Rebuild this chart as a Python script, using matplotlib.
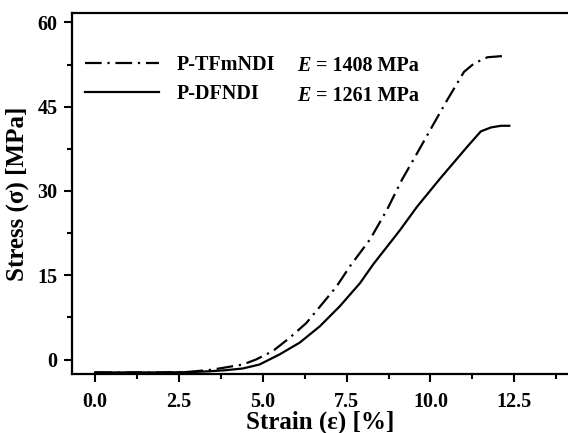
import matplotlib
matplotlib.use("Agg")
import matplotlib.pyplot as plt
from matplotlib.ticker import MultipleLocator, FormatStrFormatter

plt.rcParams['font.family'] = ['Liberation Serif', 'DejaVu Serif']
plt.rcParams['font.weight'] = 'bold'
plt.rcParams['axes.labelweight'] = 'bold'

# P-TFmNDI (dash-dot)
strain_tf = [0, 1.0, 2.0, 2.8, 3.5, 4.0, 4.4, 4.8, 5.3, 5.8, 6.3, 6.8, 7.2, 7.6,
             8.2, 8.7, 9.15, 9.6, 10.1, 10.5, 11.0, 11.3, 11.7, 12.13]
stress_tf = [-2.3, -2.3, -2.3, -2.2, -1.8, -1.3, -0.9, 0.0, 1.5, 3.85, 6.5, 10.1, 13.0, 16.6,
             21.4, 26.6, 32.0, 36.7, 42.0, 46.2, 51.2, 52.7, 53.8, 54.0]

# P-DFNDI (solid)
strain_df = [0, 1.0, 2.0, 2.8, 3.4, 3.9, 4.4, 4.9, 5.5, 6.1, 6.7, 7.3, 7.9, 8.3,
             8.8, 9.1, 9.6, 10.3, 11.1, 11.5, 11.8, 12.1, 12.35]
stress_df = [-2.3, -2.3, -2.3, -2.25, -2.1, -1.9, -1.6, -0.9, 0.9, 3.0, 5.9, 9.5, 13.6, 17.0,
             20.8, 23.1, 27.2, 32.3, 37.9, 40.6, 41.3, 41.6, 41.6]

names = ['P-TFmNDI', 'P-DFNDI']
moduli = ['1408', '1261']

fig = plt.figure(figsize=(5.68, 4.33), dpi=100)
ax = fig.add_axes([0.126, 0.136, 0.874, 0.833])

l1, = ax.plot(strain_tf, stress_tf, color='black', lw=1.6, dashes=(7.5, 2.6, 1, 2.6))
l2, = ax.plot(strain_df, stress_df, color='black', lw=1.6)

ax.set_xlim(-0.7, 14.1)
ax.set_ylim(-2.6, 61.6)
ax.xaxis.set_major_locator(MultipleLocator(2.5))
ax.xaxis.set_minor_locator(MultipleLocator(1.25))
ax.yaxis.set_major_locator(MultipleLocator(15))
ax.yaxis.set_minor_locator(MultipleLocator(7.5))
ax.xaxis.set_major_formatter(FormatStrFormatter('%.1f'))
ax.tick_params(which='major', direction='out', length=6, width=1.5, labelsize=14.5, pad=4)
ax.tick_params(which='minor', direction='out', length=3.5, width=1.5)
ax.tick_params(axis='x', pad=7)

for side in ['left', 'bottom', 'top']:
    ax.spines[side].set_linewidth(1.6)
ax.spines['right'].set_visible(False)

ax.set_xlabel('Strain (ε) [%]', fontsize=18, labelpad=-1)
ax.set_ylabel('Stress (σ) [MPa]', fontsize=18, labelpad=6)

leg = ax.legend([l1, l2], names, loc='upper left', bbox_to_anchor=(0.027, 0.884),
                frameon=False, fontsize=14.5, handlelength=3.7, handletextpad=0.85,
                borderpad=0, borderaxespad=0, labelspacing=0.45)

rows_y = [0.853, 0.772]
for y, m in zip(rows_y, moduli):
    ax.text(0.454, y, 'E', style='italic', fontsize=14.5, va='center', transform=ax.transAxes)
    ax.text(0.492, y, '= ' + m + ' MPa', fontsize=14.5, va='center', transform=ax.transAxes)

fig.savefig('out.png', dpi=100)
